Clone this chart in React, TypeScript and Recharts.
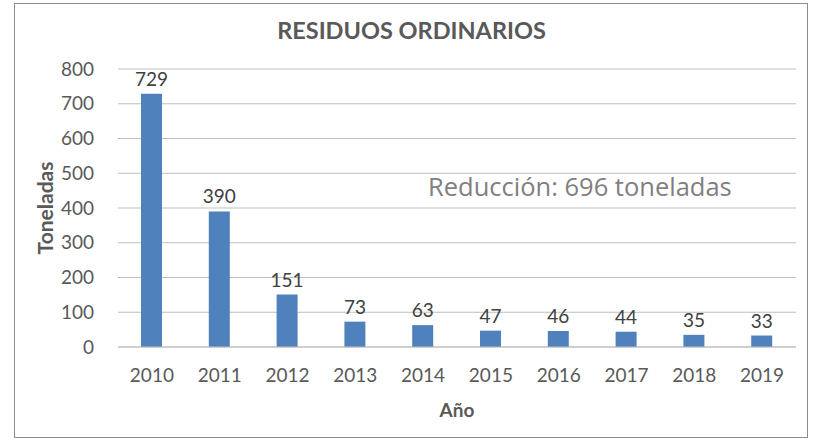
import { BarChart, Bar, XAxis, YAxis, CartesianGrid, LabelList, Label } from 'recharts';

const years = ['2010', '2011', '2012', '2013', '2014', '2015', '2016', '2017', '2018', '2019'];
const toneladas = [729, 390, 151, 73, 63, 47, 46, 44, 35, 33];
const yTicks = [0, 100, 200, 300, 400, 500, 600, 700, 800];

const data = years.map((year, i) => ({ year, value: toneladas[i] }));

const font = 'Lato, "Liberation Sans", sans-serif';

export default function App() {
  return (
    <div style={{ position: 'fixed', left: 0, top: 0, width: 813, height: 438, background: '#fff', fontFamily: font }}>
      <div
        style={{
          position: 'absolute',
          left: 14,
          top: 3,
          width: 794,
          height: 435,
          border: '1.5px solid #8c8c8c',
          boxSizing: 'border-box',
        }}
      />
      <div
        style={{
          position: 'absolute',
          left: 0,
          width: 823,
          top: 16,
          textAlign: 'center',
          fontSize: 23.5,
          fontWeight: 'bold',
          color: '#595959',
        }}
      >
        RESIDUOS ORDINARIOS
      </div>
      <div
        style={{
          position: 'absolute',
          left: 428,
          top: 169,
          fontSize: 25.5,
          fontFamily: '"Open Sans", sans-serif',
          color: '#7f7f7f',
          whiteSpace: 'nowrap',
        }}
      >
        Reducción: 696 toneladas
      </div>
      <BarChart
        width={813}
        height={438}
        data={data}
        margin={{ top: 69, right: 17, left: 58, bottom: 61 }}
        style={{ position: 'absolute', left: 0, top: 0 }}
      >
        <CartesianGrid vertical={false} stroke="#bfbfbf" />
        <XAxis
          dataKey="year"
          height={30}
          tickLine={false}
          axisLine={{ stroke: '#bfbfbf' }}
          tick={{ fill: '#595959', fontSize: 19, fontFamily: font }}
          tickMargin={16}
        >
          <Label value="Año" position="bottom" offset={27} fill="#595959" fontSize={19} fontWeight="bold" fontFamily={font} />
        </XAxis>
        <YAxis
          domain={[0, 800]}
          ticks={yTicks}
          width={60}
          tickLine={false}
          axisLine={false}
          tick={{ fill: '#595959', fontSize: 19, fontFamily: font }}
          tickMargin={18}
        >
          <Label
            value="Toneladas"
            angle={-90}
            position="insideLeft"
            offset={-12}
            style={{ textAnchor: 'middle' }}
            fill="#595959"
            fontSize={21}
            fontWeight="bold"
            fontFamily={font}
          />
        </YAxis>
        <Bar dataKey="value" fill="#4f81bd" barSize={21} isAnimationActive={false}>
          <LabelList dataKey="value" position="top" offset={8} fill="#404040" fontSize={19} fontFamily={font} />
        </Bar>
      </BarChart>
    </div>
  );
}
